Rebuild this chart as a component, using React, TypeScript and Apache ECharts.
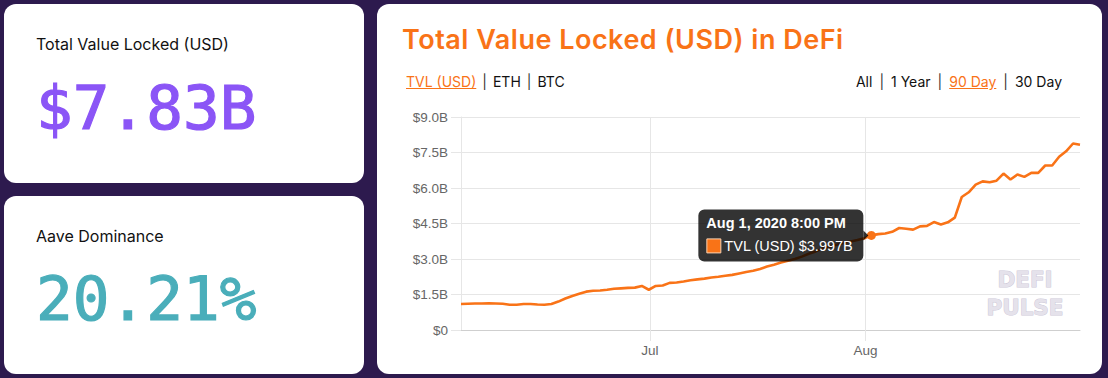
import React, { useEffect, useRef } from "react";
import * as echarts from "echarts";

// ---------- data ----------
const START = { year: 2020, month: 5, day: 3, hour: 20 }; // Jun 3, 2020 8:00 PM, one point per day
const tvlBillions = [
  1.10, 1.11, 1.12, 1.12, 1.13, 1.12, 1.11, 1.07, 1.07, 1.10,
  1.10, 1.08, 1.07, 1.10, 1.20, 1.33, 1.44, 1.53, 1.62, 1.66,
  1.67, 1.70, 1.74, 1.76, 1.78, 1.79, 1.86, 1.70, 1.86, 1.88,
  1.99, 2.01, 2.05, 2.10, 2.14, 2.17, 2.22, 2.25, 2.29, 2.33,
  2.39, 2.45, 2.50, 2.58, 2.68, 2.76, 2.85, 2.93, 3.00, 3.10,
  3.22, 3.32, 3.45, 3.53, 3.60, 3.68, 3.74, 3.80, 3.88, 3.997,
  4.05, 4.08, 4.15, 4.31, 4.28, 4.24, 4.38, 4.40, 4.56, 4.46,
  4.55, 4.75, 5.62, 5.82, 6.14, 6.28, 6.24, 6.31, 6.61, 6.36,
  6.57, 6.47, 6.64, 6.64, 6.95, 6.95, 7.32, 7.55, 7.88, 7.83,
];
const monthNames = ["Jan", "Feb", "Mar", "Apr", "May", "Jun", "Jul", "Aug", "Sep", "Oct", "Nov", "Dec"];
const monthTickDates = [
  [2020, 6, 1],
  [2020, 7, 1],
];
const yMin = 0;
const yMax = 9;
const yStep = 1.5;
const hoverDay = [2020, 7, 1]; // Aug 1, 2020
const seriesName = "TVL (USD)";

const times = tvlBillions.map((_, i) =>
  new Date(START.year, START.month, START.day + i, START.hour).getTime()
);
const monthTicks = monthTickDates.map(([y, m, d]) => new Date(y, m, d).getTime());

const ORANGE = "#f97317";
const BG = "#2d1a4e";
const AXIS_FONT = "'Liberation Sans', Arial, sans-serif";

function fmtTooltipDate(t: number) {
  const d = new Date(t);
  let h = d.getHours();
  const ampm = h >= 12 ? "PM" : "AM";
  h = h % 12;
  if (h === 0) h = 12;
  const mm = String(d.getMinutes()).padStart(2, "0");
  return `${monthNames[d.getMonth()]} ${d.getDate()}, ${d.getFullYear()} ${h}:${mm} ${ampm}`;
}

function Chart() {
  const ref = useRef<HTMLDivElement>(null);
  useEffect(() => {
    if (!ref.current) return;
    const chart = echarts.init(ref.current, undefined, { renderer: "svg" });
    const hoverIndex = times.findIndex((t) => {
      const d = new Date(t);
      return d.getFullYear() === hoverDay[0] && d.getMonth() === hoverDay[1] && d.getDate() === hoverDay[2];
    });
    const gridColor = "#e6e6e6";
    chart.setOption({
      animation: false,
      grid: { left: 84, right: 22, top: 113, bottom: 44 },
      xAxis: {
        type: "value",
        min: times[0],
        max: times[times.length - 1],
        axisLine: { show: true, onZero: false, lineStyle: { color: "#cfcfcf", width: 1 } },
        axisTick: { show: true, length: 11, customValues: monthTicks, lineStyle: { color: gridColor } },
        axisLabel: {
          customValues: monthTicks,
          formatter: (v: number) => monthNames[new Date(v).getMonth()],
          color: "#666",
          fontSize: 13.5,
          fontFamily: AXIS_FONT,
          margin: 13,
        },
        splitLine: { show: true, lineStyle: { color: gridColor } },
      },
      yAxis: {
        type: "value",
        min: yMin,
        max: yMax,
        interval: yStep,
        axisLine: { show: true, lineStyle: { color: gridColor } },
        axisTick: { show: true, length: 10, lineStyle: { color: gridColor } },
        axisLabel: {
          formatter: (v: number) => (v === 0 ? "$0" : `$${v.toFixed(1)}B`),
          color: "#666",
          fontSize: 13.5,
          fontFamily: AXIS_FONT,
          margin: 13,
        },
        splitLine: { show: true, lineStyle: { color: gridColor } },
      },
      series: [
        {
          name: seriesName,
          type: "line",
          data: times.map((t, i) => [t, tvlBillions[i]]),
          showSymbol: false,
          silent: true,
          lineStyle: { color: ORANGE, width: 2.6 },
          itemStyle: { color: ORANGE },
          markPoint: {
            symbol: "circle",
            symbolSize: 9,
            label: { show: false },
            itemStyle: { color: ORANGE },
            data: [{ coord: [times[hoverIndex], tvlBillions[hoverIndex]] }],
          },
        },
      ],
    });

    const [px, py] = chart.convertToPixel({ gridIndex: 0 }, [times[hoverIndex], tvlBillions[hoverIndex]]) as number[];
    const boxW = 165;
    const boxH = 52;
    const boxR = px - 8;
    const boxL = boxR - boxW;
    const boxT = py - boxH / 2;
    chart.setOption({
      graphic: [
        {
          type: "text",
          x: 648,
          y: 261,
          z: 2,
          style: {
            text: "DEFI\nPULSE",
            fill: "#e5e2eb",
            stroke: "#cdc8d8",
            lineWidth: 1,
            font: "bold 21.5px 'DejaVu Sans', sans-serif",
            lineHeight: 28,
            align: "center",
            verticalAlign: "top",
          },
        },
        {
          type: "group",
          z: 100,
          children: [
            {
              type: "rect",
              z: 100,
              shape: { x: boxL, y: boxT, width: boxW, height: boxH, r: 6 },
              style: { fill: "rgba(0,0,0,0.8)" },
            },
            {
              type: "polygon",
              z: 100,
              shape: { points: [[boxR, py - 5], [boxR + 5, py], [boxR, py + 5]] },
              style: { fill: "rgba(0,0,0,0.8)" },
            },
            {
              type: "text",
              z: 101,
              x: boxL + 8,
              y: boxT + 6,
              style: {
                text: fmtTooltipDate(times[hoverIndex]),
                fill: "#fff",
                font: `bold 14.5px ${AXIS_FONT}`,
                verticalAlign: "top",
              },
            },
            {
              type: "rect",
              z: 101,
              shape: { x: boxL + 8.5, y: boxT + 29.5, width: 14, height: 14 },
              style: { fill: ORANGE, stroke: "#fbd2b0", lineWidth: 1 },
            },
            {
              type: "text",
              z: 101,
              x: boxL + 26,
              y: boxT + 29.5,
              style: {
                text: `${seriesName} $${tvlBillions[hoverIndex].toFixed(3)}B`,
                fill: "#fff",
                font: `14.5px ${AXIS_FONT}`,
                verticalAlign: "top",
              },
            },
          ],
        },
      ],
    });
    return () => chart.dispose();
  }, []);
  return <div ref={ref} style={{ position: "absolute", left: 0, top: 0, width: 725, height: 370 }} />;
}

const card = (left: number, top: number, width: number, height: number): React.CSSProperties => ({
  position: "absolute",
  left,
  top,
  width,
  height,
  background: "#fff",
  borderRadius: 12,
  overflow: "hidden",
});

const labelStyle: React.CSSProperties = {
  position: "absolute",
  left: 32,
  top: 32,
  fontFamily: "Inter, 'Noto Sans', sans-serif",
  fontSize: 16,
  lineHeight: "16px",
  color: "#111",
  whiteSpace: "nowrap",
};

const bigStyle = (color: string): React.CSSProperties => ({
  position: "absolute",
  left: 32,
  top: 73,
  fontFamily: "'DejaVu Sans Mono', monospace",
  fontSize: 61,
  lineHeight: "61px",
  color,
  WebkitTextStroke: `1.2px ${color}`,
  whiteSpace: "nowrap",
});

const linkStyle: React.CSSProperties = { color: ORANGE, textDecoration: "underline" };
const sep = <span style={{ color: "#333", margin: "0 7px" }}>|</span>;

const linksRow: React.CSSProperties = {
  position: "absolute",
  top: 71,
  fontFamily: "Inter, 'Noto Sans', sans-serif",
  fontSize: 14,
  lineHeight: "14px",
  color: "#111",
  whiteSpace: "nowrap",
};

export default function App() {
  return (
    <div
      style={{
        position: "fixed",
        left: 0,
        top: 0,
        width: 1108,
        height: 378,
        background: BG,
        overflow: "hidden",
      }}
    >
      <div style={card(4, 4, 360, 179)}>
        <div style={labelStyle}>Total Value Locked (USD)</div>
        <div style={bigStyle("#8b55f6")}>$7.83B</div>
      </div>
      <div style={card(4, 196, 360, 178)}>
        <div style={labelStyle}>Aave Dominance</div>
        <div style={{ ...bigStyle("#4aaeba"), top: 72 }}>20.21%</div>
      </div>
      <div style={card(377, 4, 725, 370)}>
        <Chart />
        <div
          style={{
            position: "absolute",
            left: 25,
            top: 22,
            fontFamily: "Inter, 'Noto Sans', sans-serif",
            fontWeight: 600,
            fontSize: 27,
            lineHeight: "27px",
            letterSpacing: "0.5px",
            color: ORANGE,
            whiteSpace: "nowrap",
          }}
        >
          Total Value Locked (USD) in DeFi
        </div>
        <div style={{ ...linksRow, left: 29 }}>
          <span style={linkStyle}>TVL (USD)</span>
          <span style={{ color: "#333", margin: "0 6px" }}>|</span>
          <span>ETH</span>
          <span style={{ color: "#333", margin: "0 6px" }}>|</span>
          <span>BTC</span>
        </div>
        <div style={{ ...linksRow, right: 40 }}>
          <span>All</span>
          {sep}
          <span>1 Year</span>
          {sep}
          <span style={linkStyle}>90 Day</span>
          {sep}
          <span>30 Day</span>
        </div>
      </div>
    </div>
  );
}
